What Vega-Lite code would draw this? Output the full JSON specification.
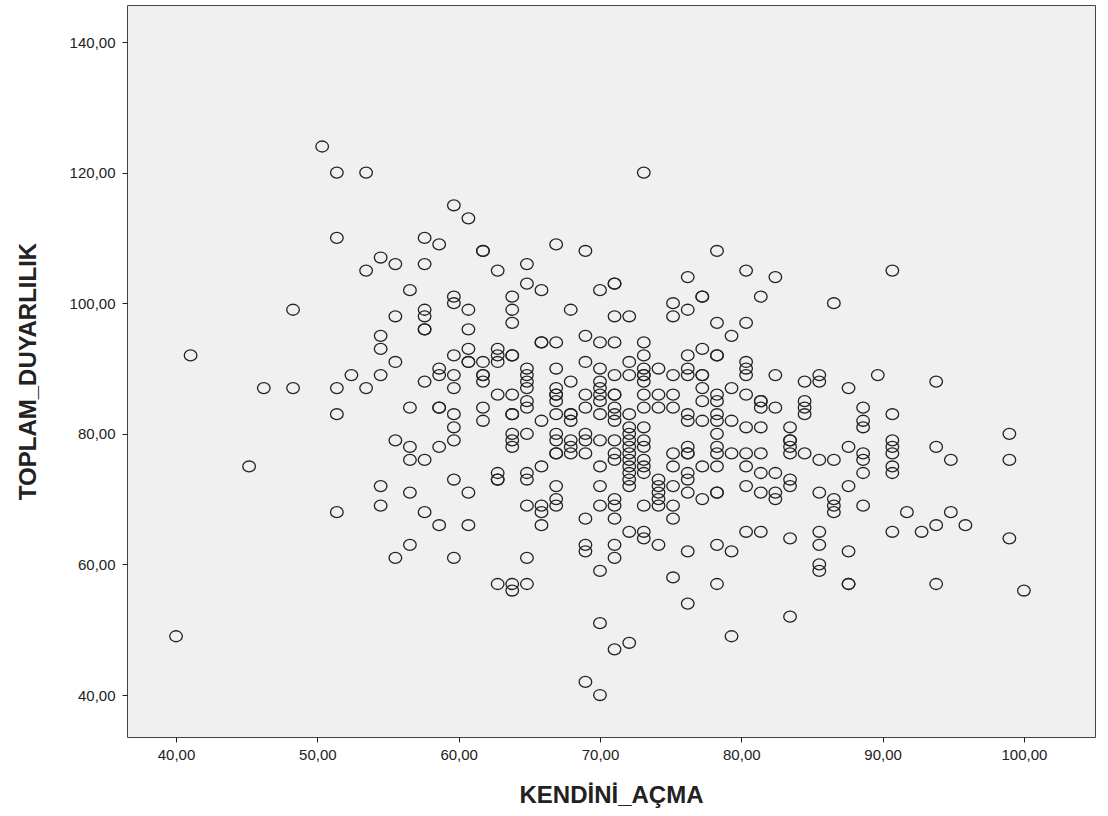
{
"$schema": "https://vega.github.io/schema/vega-lite/v6.json",
"width": 968, "height": 732,
"autosize": {"type": "none"},
"padding": {"left": 127, "top": 5, "right": 13, "bottom": 79},
"background": "white",
"config": {"view": {"fill": "#f0f0f0", "stroke": "#444444", "strokeWidth": 1}, "font": "Liberation Sans",
 "axis": {"grid": false, "domain": false, "tickColor": "#222222", "tickSize": 5, "labelFontSize": 15, "labelColor": "#222222", "titleFontSize": 24, "titleFontWeight": "bold", "titleColor": "#222222", "labelExpr": "replace(format(datum.value,'.2f'),'.',',')"}},
"data": {"values": [
{"x":40.00,"y":49},{"x":41.03,"y":92},{"x":45.17,"y":75},{"x":46.21,"y":87},{"x":48.28,"y":99},{"x":48.28,"y":87},{"x":50.34,"y":124},
{"x":51.38,"y":120},{"x":51.38,"y":110},{"x":51.38,"y":87},{"x":51.38,"y":83},{"x":51.38,"y":68},{"x":52.41,"y":89},
{"x":53.45,"y":120},{"x":53.45,"y":105},{"x":53.45,"y":87},
{"x":54.48,"y":107},{"x":54.48,"y":95},{"x":54.48,"y":93},{"x":54.48,"y":89},{"x":54.48,"y":72},{"x":54.48,"y":69},
{"x":55.52,"y":106},{"x":55.52,"y":98},{"x":55.52,"y":91},{"x":55.52,"y":79},{"x":55.52,"y":61},
{"x":56.55,"y":102},{"x":56.55,"y":84},{"x":56.55,"y":78},{"x":56.55,"y":76},{"x":56.55,"y":71},{"x":56.55,"y":63},
{"x":57.59,"y":110},{"x":57.59,"y":106},{"x":57.59,"y":99},{"x":57.59,"y":98},{"x":57.59,"y":96},{"x":57.59,"y":96},{"x":57.59,"y":88},{"x":57.59,"y":76},{"x":57.59,"y":68},
{"x":58.62,"y":109},{"x":58.62,"y":90},{"x":58.62,"y":89},{"x":58.62,"y":84},{"x":58.62,"y":84},{"x":58.62,"y":78},{"x":58.62,"y":66},
{"x":59.66,"y":115},{"x":59.66,"y":101},{"x":59.66,"y":100},{"x":59.66,"y":92},{"x":59.66,"y":89},{"x":59.66,"y":87},{"x":59.66,"y":83},{"x":59.66,"y":81},{"x":59.66,"y":79},{"x":59.66,"y":73},{"x":59.66,"y":61},
{"x":60.69,"y":113},{"x":60.69,"y":99},{"x":60.69,"y":96},{"x":60.69,"y":93},{"x":60.69,"y":91},{"x":60.69,"y":91},{"x":60.69,"y":71},{"x":60.69,"y":66},
{"x":61.72,"y":108},{"x":61.72,"y":108},{"x":61.72,"y":91},{"x":61.72,"y":89},{"x":61.72,"y":89},{"x":61.72,"y":88},{"x":61.72,"y":84},{"x":61.72,"y":82},
{"x":62.76,"y":105},{"x":62.76,"y":93},{"x":62.76,"y":92},{"x":62.76,"y":91},{"x":62.76,"y":86},{"x":62.76,"y":74},{"x":62.76,"y":73},{"x":62.76,"y":73},{"x":62.76,"y":57},
{"x":63.79,"y":101},{"x":63.79,"y":99},{"x":63.79,"y":97},{"x":63.79,"y":92},{"x":63.79,"y":92},{"x":63.79,"y":86},{"x":63.79,"y":83},{"x":63.79,"y":83},{"x":63.79,"y":80},{"x":63.79,"y":79},{"x":63.79,"y":78},{"x":63.79,"y":57},{"x":63.79,"y":56},
{"x":64.83,"y":106},{"x":64.83,"y":103},{"x":64.83,"y":90},{"x":64.83,"y":89},{"x":64.83,"y":88},{"x":64.83,"y":87},{"x":64.83,"y":85},{"x":64.83,"y":84},{"x":64.83,"y":80},{"x":64.83,"y":74},{"x":64.83,"y":73},{"x":64.83,"y":69},{"x":64.83,"y":61},{"x":64.83,"y":57},
{"x":65.86,"y":102},{"x":65.86,"y":94},{"x":65.86,"y":94},{"x":65.86,"y":82},{"x":65.86,"y":75},{"x":65.86,"y":69},{"x":65.86,"y":68},{"x":65.86,"y":66},
{"x":66.90,"y":109},{"x":66.90,"y":94},{"x":66.90,"y":90},{"x":66.90,"y":87},{"x":66.90,"y":86},{"x":66.90,"y":86},{"x":66.90,"y":85},{"x":66.90,"y":83},{"x":66.90,"y":80},{"x":66.90,"y":79},{"x":66.90,"y":77},{"x":66.90,"y":77},{"x":66.90,"y":72},{"x":66.90,"y":70},{"x":66.90,"y":69},
{"x":67.93,"y":99},{"x":67.93,"y":88},{"x":67.93,"y":83},{"x":67.93,"y":83},{"x":67.93,"y":82},{"x":67.93,"y":79},{"x":67.93,"y":78},{"x":67.93,"y":77},
{"x":68.97,"y":108},{"x":68.97,"y":95},{"x":68.97,"y":91},{"x":68.97,"y":86},{"x":68.97,"y":84},{"x":68.97,"y":80},{"x":68.97,"y":79},{"x":68.97,"y":77},{"x":68.97,"y":67},{"x":68.97,"y":63},{"x":68.97,"y":62},{"x":68.97,"y":42},
{"x":70.00,"y":102},{"x":70.00,"y":94},{"x":70.00,"y":90},{"x":70.00,"y":88},{"x":70.00,"y":87},{"x":70.00,"y":86},{"x":70.00,"y":85},{"x":70.00,"y":83},{"x":70.00,"y":79},{"x":70.00,"y":75},{"x":70.00,"y":72},{"x":70.00,"y":69},{"x":70.00,"y":59},{"x":70.00,"y":51},{"x":70.00,"y":40},
{"x":71.03,"y":103},{"x":71.03,"y":103},{"x":71.03,"y":98},{"x":71.03,"y":94},{"x":71.03,"y":89},{"x":71.03,"y":86},{"x":71.03,"y":86},{"x":71.03,"y":84},{"x":71.03,"y":83},{"x":71.03,"y":82},{"x":71.03,"y":79},{"x":71.03,"y":77},{"x":71.03,"y":76},{"x":71.03,"y":70},{"x":71.03,"y":69},{"x":71.03,"y":67},{"x":71.03,"y":63},{"x":71.03,"y":61},{"x":71.03,"y":47},
{"x":72.07,"y":98},{"x":72.07,"y":91},{"x":72.07,"y":89},{"x":72.07,"y":83},{"x":72.07,"y":81},{"x":72.07,"y":80},{"x":72.07,"y":79},{"x":72.07,"y":78},{"x":72.07,"y":77},{"x":72.07,"y":76},{"x":72.07,"y":75},{"x":72.07,"y":74},{"x":72.07,"y":73},{"x":72.07,"y":72},{"x":72.07,"y":65},{"x":72.07,"y":48},
{"x":73.10,"y":120},{"x":73.10,"y":94},{"x":73.10,"y":92},{"x":73.10,"y":90},{"x":73.10,"y":89},{"x":73.10,"y":89},{"x":73.10,"y":88},{"x":73.10,"y":86},{"x":73.10,"y":84},{"x":73.10,"y":81},{"x":73.10,"y":79},{"x":73.10,"y":78},{"x":73.10,"y":76},{"x":73.10,"y":75},{"x":73.10,"y":74},{"x":73.10,"y":69},{"x":73.10,"y":65},{"x":73.10,"y":64},
{"x":74.14,"y":90},{"x":74.14,"y":86},{"x":74.14,"y":84},{"x":74.14,"y":73},{"x":74.14,"y":72},{"x":74.14,"y":71},{"x":74.14,"y":70},{"x":74.14,"y":69},{"x":74.14,"y":63},
{"x":75.17,"y":100},{"x":75.17,"y":98},{"x":75.17,"y":89},{"x":75.17,"y":86},{"x":75.17,"y":84},{"x":75.17,"y":77},{"x":75.17,"y":75},{"x":75.17,"y":72},{"x":75.17,"y":69},{"x":75.17,"y":67},{"x":75.17,"y":58},
{"x":76.21,"y":104},{"x":76.21,"y":99},{"x":76.21,"y":92},{"x":76.21,"y":90},{"x":76.21,"y":89},{"x":76.21,"y":83},{"x":76.21,"y":82},{"x":76.21,"y":78},{"x":76.21,"y":77},{"x":76.21,"y":77},{"x":76.21,"y":74},{"x":76.21,"y":73},{"x":76.21,"y":71},{"x":76.21,"y":62},{"x":76.21,"y":54},
{"x":77.24,"y":101},{"x":77.24,"y":101},{"x":77.24,"y":93},{"x":77.24,"y":89},{"x":77.24,"y":89},{"x":77.24,"y":87},{"x":77.24,"y":85},{"x":77.24,"y":82},{"x":77.24,"y":75},{"x":77.24,"y":70},
{"x":78.28,"y":108},{"x":78.28,"y":97},{"x":78.28,"y":92},{"x":78.28,"y":92},{"x":78.28,"y":86},{"x":78.28,"y":85},{"x":78.28,"y":83},{"x":78.28,"y":82},{"x":78.28,"y":80},{"x":78.28,"y":78},{"x":78.28,"y":77},{"x":78.28,"y":75},{"x":78.28,"y":71},{"x":78.28,"y":71},{"x":78.28,"y":63},{"x":78.28,"y":57},
{"x":79.31,"y":95},{"x":79.31,"y":87},{"x":79.31,"y":82},{"x":79.31,"y":77},{"x":79.31,"y":62},{"x":79.31,"y":49},
{"x":80.34,"y":105},{"x":80.34,"y":97},{"x":80.34,"y":91},{"x":80.34,"y":90},{"x":80.34,"y":89},{"x":80.34,"y":86},{"x":80.34,"y":81},{"x":80.34,"y":77},{"x":80.34,"y":75},{"x":80.34,"y":72},{"x":80.34,"y":65},
{"x":81.38,"y":101},{"x":81.38,"y":85},{"x":81.38,"y":85},{"x":81.38,"y":84},{"x":81.38,"y":81},{"x":81.38,"y":77},{"x":81.38,"y":74},{"x":81.38,"y":71},{"x":81.38,"y":65},
{"x":82.41,"y":104},{"x":82.41,"y":89},{"x":82.41,"y":84},{"x":82.41,"y":74},{"x":82.41,"y":71},{"x":82.41,"y":70},
{"x":83.45,"y":81},{"x":83.45,"y":79},{"x":83.45,"y":79},{"x":83.45,"y":78},{"x":83.45,"y":77},{"x":83.45,"y":73},{"x":83.45,"y":72},{"x":83.45,"y":64},{"x":83.45,"y":52},
{"x":84.48,"y":88},{"x":84.48,"y":85},{"x":84.48,"y":84},{"x":84.48,"y":83},{"x":84.48,"y":77},
{"x":85.52,"y":89},{"x":85.52,"y":88},{"x":85.52,"y":76},{"x":85.52,"y":71},{"x":85.52,"y":65},{"x":85.52,"y":63},{"x":85.52,"y":60},{"x":85.52,"y":59},
{"x":86.55,"y":100},{"x":86.55,"y":76},{"x":86.55,"y":70},{"x":86.55,"y":69},{"x":86.55,"y":68},
{"x":87.59,"y":87},{"x":87.59,"y":78},{"x":87.59,"y":72},{"x":87.59,"y":62},{"x":87.59,"y":57},{"x":87.59,"y":57},
{"x":88.62,"y":84},{"x":88.62,"y":82},{"x":88.62,"y":81},{"x":88.62,"y":77},{"x":88.62,"y":76},{"x":88.62,"y":74},{"x":88.62,"y":69},
{"x":89.66,"y":89},
{"x":90.69,"y":105},{"x":90.69,"y":83},{"x":90.69,"y":79},{"x":90.69,"y":78},{"x":90.69,"y":77},{"x":90.69,"y":75},{"x":90.69,"y":74},{"x":90.69,"y":65},
{"x":91.72,"y":68},{"x":92.76,"y":65},{"x":93.79,"y":88},{"x":93.79,"y":78},{"x":93.79,"y":66},{"x":93.79,"y":57},{"x":94.83,"y":76},{"x":94.83,"y":68},{"x":95.86,"y":66},
{"x":98.97,"y":80},{"x":98.97,"y":76},{"x":98.97,"y":64},{"x":100.00,"y":56}
]},
"mark": {"type": "point", "shape": "M-1,0A1,0.87,0,1,1,1,0A1,0.87,0,1,1,-1,0Z", "filled": false, "size": 159, "color": "#222222", "strokeWidth": 1.3, "opacity": 1},
"encoding": {
 "x": {"field": "x", "type": "quantitative", "scale": {"domain": [36.53, 105.03], "nice": false, "zero": false},
  "axis": {"title": "KENDİNİ_AÇMA", "values": [40, 50, 60, 70, 80, 90, 100], "labelPadding": 5, "titlePadding": 21}},
 "y": {"field": "y", "type": "quantitative", "scale": {"domain": [33.57, 145.67], "nice": false, "zero": false},
  "axis": {"title": "TOPLAM_DUYARLILIK", "values": [40, 60, 80, 100, 120, 140], "labelPadding": 7, "titlePadding": 29}}
}
}
